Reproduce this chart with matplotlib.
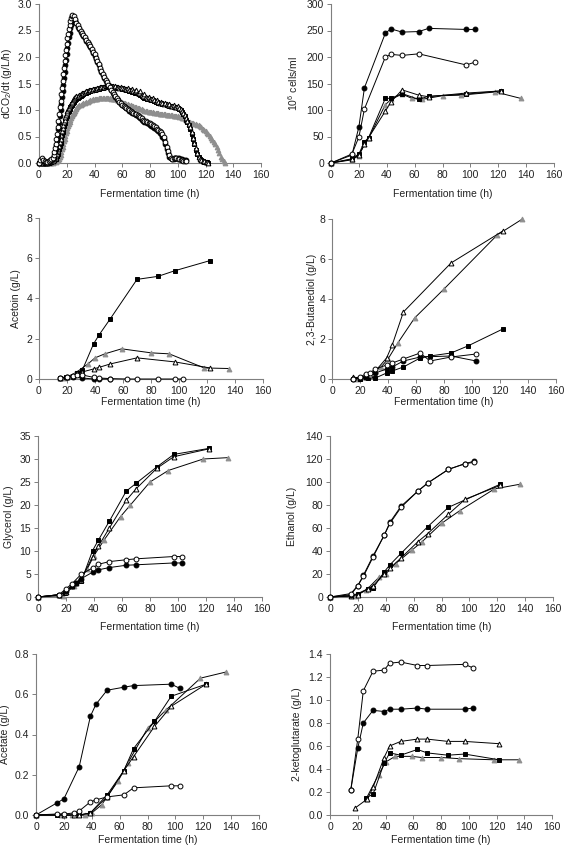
import matplotlib
matplotlib.use("Agg")
import matplotlib.pyplot as plt
import numpy as np

plt.rcParams['font.family'] = ['Liberation Sans', 'DejaVu Sans']
plt.rcParams['mathtext.fontset'] = 'custom'
plt.rcParams['mathtext.rm'] = 'Liberation Sans'
plt.rcParams['mathtext.it'] = 'Liberation Sans'

# ---------------- Data ----------------
# Panel 1: CO2 production rate (online measurement)
co2_t_fast = np.concatenate([np.arange(0, 11), np.arange(21, 49) / 2.0, np.arange(25, 107)])
co2_oc = [0.0, 0.05, 0.1, 0.06, 0.03, 0.02, 0.02, 0.03, 0.05, 0.07, 0.1,
          0.15, 0.2, 0.28, 0.35, 0.45, 0.55, 0.67, 0.8, 0.92, 1.05, 1.17, 1.3, 1.42, 1.55,
          1.67, 1.8, 1.92, 2.03, 2.14, 2.25, 2.35, 2.44, 2.52, 2.6, 2.67, 2.73, 2.78, 2.8,
          2.78, 2.72, 2.65, 2.6, 2.55, 2.5, 2.46, 2.42, 2.38, 2.33,
          2.29, 2.25, 2.2, 2.15, 2.1, 2.05, 1.98, 1.92, 1.86, 1.8,
          1.74, 1.68, 1.62, 1.57, 1.52, 1.48, 1.43, 1.38, 1.34, 1.3,
          1.26, 1.22, 1.19, 1.16, 1.13,
          1.1, 1.08, 1.06, 1.04, 1.02, 1.0, 0.98, 0.97, 0.95, 0.93,
          0.92, 0.9, 0.88, 0.86, 0.84, 0.82, 0.8, 0.79, 0.77, 0.76,
          0.75, 0.73, 0.71, 0.69, 0.67, 0.65, 0.63, 0.6, 0.58, 0.54,
          0.5, 0.4, 0.3, 0.22, 0.15, 0.1, 0.08, 0.09, 0.1, 0.09,
          0.08, 0.07, 0.05, 0.05, 0.04, 0.04, 0.03]
co2_fc = [0.0, 0.02, 0.08, 0.05, 0.02, 0.02, 0.02, 0.02, 0.03, 0.05, 0.08,
          0.1, 0.14, 0.2, 0.26, 0.34, 0.43, 0.53, 0.64, 0.76, 0.88, 1.0, 1.12, 1.24, 1.36,
          1.48, 1.6, 1.72, 1.84, 1.95, 2.06, 2.17, 2.27, 2.37, 2.46, 2.54, 2.61, 2.66, 2.7,
          2.72, 2.7, 2.64, 2.57, 2.52, 2.48, 2.44, 2.4, 2.36, 2.31,
          2.27, 2.23, 2.18, 2.13, 2.08, 2.02, 1.96, 1.9, 1.84, 1.78,
          1.72, 1.66, 1.6, 1.55, 1.5, 1.46, 1.41, 1.37, 1.33, 1.29,
          1.25, 1.21, 1.18, 1.15, 1.12,
          1.09, 1.07, 1.05, 1.03, 1.01, 0.99, 0.97, 0.95, 0.94, 0.92,
          0.9, 0.88, 0.86, 0.84, 0.82, 0.8, 0.78, 0.77, 0.75, 0.74,
          0.72, 0.7, 0.68, 0.66, 0.64, 0.62, 0.6, 0.57, 0.54, 0.5,
          0.45, 0.36, 0.26, 0.18, 0.12, 0.09, 0.07, 0.08, 0.09, 0.1,
          0.1, 0.09, 0.08, 0.07, 0.06, 0.05, 0.05]
co2_t_slow = np.concatenate([np.arange(0, 13), np.arange(25, 53) / 2.0, np.arange(27, 123)])
co2_fs = [0.0, 0.02, 0.0, 0.0, 0.0, 0.0, 0.0, 0.0, 0.02, 0.02, 0.03, 0.05, 0.08,
          0.1, 0.13, 0.17, 0.21, 0.26, 0.32, 0.38, 0.45, 0.52, 0.58,
          0.64, 0.7, 0.75, 0.8, 0.85, 0.89, 0.93, 0.96, 0.99, 1.02,
          1.05, 1.07, 1.09, 1.11, 1.13, 1.15, 1.17, 1.19,
          1.21, 1.23, 1.25, 1.27, 1.29, 1.31, 1.32, 1.33, 1.34, 1.35,
          1.36, 1.37, 1.38, 1.38, 1.39, 1.4, 1.4, 1.41, 1.42, 1.42,
          1.43, 1.43, 1.44, 1.44, 1.45, 1.44, 1.44, 1.43, 1.43, 1.42,
          1.42, 1.41, 1.41, 1.4, 1.4, 1.39, 1.38, 1.37, 1.36, 1.35,
          1.34, 1.34, 1.33, 1.33, 1.32, 1.31, 1.29, 1.27, 1.25, 1.23,
          1.22, 1.21, 1.2, 1.2, 1.19, 1.18, 1.17, 1.16, 1.15, 1.14,
          1.13, 1.13, 1.12, 1.12, 1.11, 1.1, 1.09, 1.08, 1.08, 1.07,
          1.06, 1.05, 1.05, 1.04, 1.02, 1.0, 0.97, 0.93, 0.88, 0.82,
          0.77, 0.72, 0.64, 0.55, 0.45, 0.35, 0.25, 0.17, 0.11, 0.07,
          0.05, 0.03, 0.02, 0.02, 0.01, 0.0]
co2_ot = [0.02, 0.0, 0.0, 0.0, 0.0, 0.0, 0.0, 0.01, 0.02, 0.03, 0.04, 0.06, 0.1,
          0.13, 0.17, 0.22, 0.27, 0.33, 0.39, 0.46, 0.53, 0.6, 0.66,
          0.72, 0.77, 0.82, 0.87, 0.91, 0.95, 0.98, 1.01, 1.04, 1.07,
          1.1, 1.12, 1.14, 1.16, 1.18, 1.2, 1.22, 1.24,
          1.26, 1.27, 1.29, 1.3, 1.32, 1.33, 1.34, 1.35, 1.36, 1.37,
          1.37, 1.38, 1.39, 1.4, 1.4, 1.41, 1.42, 1.43, 1.43, 1.44,
          1.44, 1.45, 1.46, 1.46, 1.47, 1.45, 1.46, 1.44, 1.45, 1.43,
          1.44, 1.42, 1.43, 1.41, 1.42, 1.4, 1.39, 1.41, 1.38, 1.37,
          1.4, 1.36, 1.35, 1.38, 1.33, 1.32, 1.35, 1.29, 1.27, 1.3,
          1.24, 1.23, 1.25, 1.21, 1.2, 1.22, 1.18, 1.17, 1.19, 1.15,
          1.14, 1.16, 1.13, 1.12, 1.14, 1.11, 1.1, 1.12, 1.08, 1.07,
          1.09, 1.06, 1.05, 1.07, 1.03, 1.01, 0.98, 0.95, 0.9, 0.85,
          0.8, 0.74, 0.67, 0.58, 0.48, 0.38, 0.28, 0.19, 0.12, 0.08,
          0.05, 0.04, 0.03, 0.02, 0.01, 0.0]
co2_t_gray = np.concatenate([np.arange(0, 15), np.arange(29, 57) / 2.0, np.arange(29, 135)])
co2_gt = [0, 0, 0, 0, 0, 0, 0, 0, 0, 0, 0, 0.01, 0.02, 0.03, 0.05,
          0.08, 0.12, 0.16, 0.21, 0.26, 0.31, 0.36, 0.41, 0.46, 0.51,
          0.56, 0.61, 0.66, 0.7, 0.74, 0.78, 0.82, 0.85, 0.88, 0.91,
          0.93, 0.95, 0.97, 0.99, 1.01, 1.03, 1.05, 1.07,
          1.09, 1.1, 1.12, 1.13, 1.14, 1.15, 1.16, 1.17, 1.18, 1.19,
          1.2, 1.2, 1.21, 1.21, 1.22, 1.22, 1.23, 1.23, 1.23, 1.23,
          1.22, 1.22, 1.22, 1.21, 1.21, 1.2, 1.2, 1.19, 1.18, 1.17,
          1.16, 1.15, 1.14, 1.13, 1.12, 1.11, 1.1, 1.09, 1.08, 1.07,
          1.06, 1.05, 1.04, 1.03, 1.02, 1.01, 1.0, 0.99, 0.99, 0.98,
          0.97, 0.97, 0.96, 0.96, 0.95, 0.95, 0.94, 0.94, 0.93, 0.93,
          0.92, 0.92, 0.92, 0.91, 0.91, 0.9, 0.9, 0.9, 0.89, 0.89,
          0.88, 0.88, 0.87, 0.86, 0.85, 0.84, 0.83, 0.82, 0.8, 0.78,
          0.77, 0.76, 0.75, 0.74, 0.73, 0.72, 0.71, 0.7, 0.68, 0.65,
          0.62, 0.6, 0.57, 0.54, 0.51, 0.48, 0.44, 0.4, 0.35, 0.3,
          0.24, 0.18, 0.12, 0.08, 0.03, 0.0]

# Panel 2: cells (10^6 cells/ml)
cell_t_fc = [0, 15, 20, 24, 39, 43, 51, 63, 70, 97, 103]
cell_fc = [0, 15, 68, 142, 245, 253, 247, 248, 254, 252, 252]
cell_t_oc = [0, 15, 20, 24, 39, 43, 51, 63, 97, 103]
cell_oc = [0, 17, 49, 102, 200, 205, 203, 206, 185, 190]
cell_t_fs = [0, 15, 20, 24, 27, 39, 43, 51, 63, 70, 97, 122]
cell_fs = [0, 8, 17, 40, 48, 122, 122, 131, 120, 126, 130, 136]
cell_t_ot = [0, 15, 20, 24, 27, 39, 43, 51, 63, 70, 97, 122]
cell_ot = [0, 7, 15, 35, 48, 98, 115, 138, 128, 125, 132, 136]
cell_t_gt = [0, 15, 20, 24, 27, 39, 43, 51, 58, 65, 80, 93, 118, 136]
cell_gt = [0, 6, 14, 35, 47, 110, 120, 130, 122, 120, 127, 128, 134, 122]

# Panel 3: acetoin (g/L)
aceto_t_fs = [15, 19, 24, 27, 31, 39, 43, 51, 70, 85, 97, 122]
aceto_fs = [0.05, 0.1, 0.15, 0.3, 0.45, 1.75, 2.2, 3.0, 4.95, 5.1, 5.38, 5.88]
aceto_t_gt = [18, 26, 35, 40, 47, 59, 80, 93, 118, 136]
aceto_gt = [0.05, 0.3, 0.75, 1.05, 1.25, 1.5, 1.3, 1.25, 0.55, 0.52]
aceto_t_ot = [15, 20, 24, 27, 31, 39, 43, 51, 70, 97, 122]
aceto_ot = [0.05, 0.1, 0.15, 0.3, 0.35, 0.5, 0.58, 0.75, 1.05, 0.85, 0.55]
aceto_t_oc = [15, 20, 24, 27, 31, 39, 43, 51, 63, 70, 85, 97, 103]
aceto_oc = [0.03, 0.1, 0.15, 0.2, 0.2, 0.08, 0.05, 0.02, 0.0, 0.0, 0.0, 0.0, 0.0]
aceto_t_fc = [15, 20, 24, 31, 39, 43, 51]
aceto_fc = [0.03, 0.1, 0.12, 0.05, 0.0, 0.0, 0.0]

# Panel 4: 2,3-butanediol (g/L)
btd_t_ot = [15, 20, 24, 27, 31, 39, 43, 51, 85, 122]
btd_ot = [0.1, 0.05, 0.1, 0.2, 0.4, 1.05, 1.7, 3.35, 5.8, 7.4]
btd_t_gt = [18, 26, 35, 40, 47, 59, 80, 118, 136]
btd_gt = [0.02, 0.2, 0.6, 1.0, 1.8, 3.05, 4.5, 7.2, 8.0]
btd_t_fs = [15, 20, 26, 31, 39, 43, 51, 63, 70, 85, 97, 122]
btd_fs = [0.0, 0.02, 0.05, 0.05, 0.3, 0.4, 0.6, 1.05, 1.15, 1.3, 1.65, 2.5]
btd_t_oc = [15, 20, 24, 27, 31, 39, 43, 51, 63, 70, 85, 103]
btd_oc = [0.02, 0.1, 0.25, 0.3, 0.5, 0.7, 0.8, 1.0, 1.3, 0.9, 1.1, 1.25]
btd_t_fc = [15, 20, 24, 31, 39, 43, 51, 63, 85, 103]
btd_fc = [0.0, 0.05, 0.1, 0.3, 0.5, 0.6, 0.9, 1.1, 1.15, 0.9]

# Panel 5: glycerol (g/L)
gly_t_fs = [0, 15, 19, 24, 27, 31, 39, 43, 51, 63, 70, 85, 97, 122]
gly_fs = [0, 0.5, 0.8, 2.5, 3.0, 3.5, 10.1, 12.3, 16.5, 23.0, 24.7, 28.3, 31.0, 32.3]
gly_t_ot = [0, 15, 20, 24, 27, 31, 39, 43, 51, 63, 70, 85, 97, 122]
gly_ot = [0, 0.5, 1.0, 2.5, 3.0, 3.8, 8.8, 11.0, 15.0, 21.0, 23.5, 28.0, 30.5, 32.2]
gly_t_gt = [0, 18, 26, 35, 40, 47, 59, 66, 80, 93, 118, 136]
gly_gt = [0, 0.3, 2.5, 6.0, 9.0, 12.3, 17.5, 20.0, 25.0, 27.5, 30.0, 30.3]
gly_t_oc = [0, 15, 20, 24, 31, 39, 43, 51, 63, 70, 97, 103]
gly_oc = [0, 0.5, 1.8, 2.8, 5.0, 6.3, 7.1, 7.7, 8.1, 8.3, 8.8, 8.8]
gly_t_fc = [0, 15, 20, 24, 27, 31, 39, 43, 51, 63, 70, 97, 103]
gly_fc = [0, 0.5, 1.3, 2.3, 3.0, 4.0, 5.4, 5.9, 6.4, 6.9, 7.0, 7.4, 7.4]

# Panel 6: ethanol (g/L)
eth_t_oc = [0, 15, 20, 24, 31, 39, 43, 51, 63, 70, 85, 97, 103]
eth_oc = [0, 3, 10, 18, 35, 54, 64, 78, 92, 99, 111, 116, 117]
eth_t_fc = [0, 15, 20, 24, 31, 39, 43, 51, 63, 70, 85, 97, 103]
eth_fc = [0, 2, 10, 19, 36, 54, 65, 79, 92, 99, 111, 116, 118]
eth_t_fs = [0, 15, 20, 27, 31, 39, 43, 51, 70, 85, 122]
eth_fs = [0, 1, 3, 7, 8, 22, 28, 38, 61, 78, 98]
eth_t_ot = [0, 15, 20, 27, 31, 39, 43, 51, 63, 70, 85, 97, 122]
eth_ot = [0, 1, 2, 7, 10, 20, 25, 34, 48, 55, 72, 85, 97]
eth_t_gt = [0, 18, 26, 35, 40, 47, 59, 66, 80, 93, 118, 136]
eth_gt = [0, 1, 6, 17, 20, 29, 41, 48, 64, 75, 94, 98]

# Panel 7: acetate (g/L)
ace_t_fc = [0, 15, 20, 31, 39, 43, 51, 63, 70, 97, 103]
ace_fc = [0, 0.06, 0.08, 0.24, 0.49, 0.55, 0.62, 0.635, 0.643, 0.65, 0.63]
ace_t_oc = [0, 15, 20, 27, 31, 39, 43, 51, 63, 70, 97, 103]
ace_oc = [0, 0.005, 0.005, 0.01, 0.02, 0.065, 0.075, 0.09, 0.1, 0.135, 0.145, 0.145]
ace_t_fs = [0, 15, 31, 39, 51, 63, 70, 85, 97, 122]
ace_fs = [0, 0.0, 0.0, 0.01, 0.1, 0.22, 0.33, 0.465, 0.59, 0.65]
ace_t_ot = [0, 20, 27, 31, 39, 51, 63, 70, 85, 97, 122]
ace_ot = [0, 0.0, 0.0, 0.0, 0.01, 0.09, 0.22, 0.29, 0.44, 0.54, 0.65]
ace_t_gt = [0, 18, 26, 35, 40, 47, 59, 66, 80, 93, 118, 136]
ace_gt = [0, 0.0, 0.0, 0.0, 0.01, 0.05, 0.17, 0.26, 0.43, 0.52, 0.68, 0.71]

# Panel 8: 2-ketoglutarate (g/L)
akg_t_oc = [15, 20, 24, 31, 39, 43, 51, 63, 70, 97, 103]
akg_oc = [0.22, 0.66, 1.08, 1.25, 1.26, 1.32, 1.33, 1.30, 1.30, 1.31, 1.28]
akg_t_fc = [15, 20, 24, 31, 39, 43, 51, 63, 70, 97, 103]
akg_fc = [0.22, 0.58, 0.80, 0.91, 0.90, 0.92, 0.92, 0.93, 0.92, 0.92, 0.93]
akg_t_ot = [18, 27, 31, 39, 43, 51, 63, 70, 85, 97, 122]
akg_ot = [0.06, 0.14, 0.24, 0.50, 0.60, 0.64, 0.66, 0.66, 0.64, 0.64, 0.62]
akg_t_fs = [26, 31, 39, 43, 51, 63, 70, 85, 97, 122]
akg_fs = [0.15, 0.18, 0.45, 0.54, 0.52, 0.57, 0.54, 0.52, 0.53, 0.48]
akg_t_gt = [26, 35, 40, 47, 59, 66, 80, 93, 118, 136]
akg_gt = [0.14, 0.35, 0.46, 0.51, 0.51, 0.50, 0.50, 0.49, 0.48, 0.48]

x_label = "Fermentation time (h)"
x_ticks = [0, 20, 40, 60, 80, 100, 120, 140, 160]

# ---------------- Styles ----------------
GRAY = '#8f8f8f'
STY = {
    'fc': dict(marker='o', mfc='black', mec='black'),
    'oc': dict(marker='o', mfc='white', mec='black'),
    'fs': dict(marker='s', mfc='black', mec='black'),
    'ot': dict(marker='^', mfc='white', mec='black'),
    'gt': dict(marker='^', mfc=GRAY, mec=GRAY),
}

W, H = 564, 850
fig = plt.figure(figsize=(W / 100, H / 100), dpi=100)


def make_ax(l, r, t, b):
    return fig.add_axes([l / W, 1 - b / H, (r - l) / W, (b - t) / H])


def style_ax(ax, ymax, ystep, ylabel, fmt, ylab_x, xlab_dy):
    ax.set_xlim(0, 160)
    ax.set_ylim(0, ymax)
    ax.set_xticks(x_ticks)
    yt = np.arange(0, ymax + ystep / 2, ystep)
    ax.set_yticks(yt)
    ax.set_yticklabels([fmt.format(v) for v in yt])
    for s in ['top', 'right']:
        ax.spines[s].set_visible(False)
    for s in ['left', 'bottom']:
        ax.spines[s].set_color('#7f7f7f')
        ax.spines[s].set_linewidth(0.8)
    ax.tick_params(axis='both', direction='out', length=3, width=0.7, color='#7f7f7f',
                   labelsize=7.5, labelcolor='#222222', pad=2)
    ax.set_xlabel(x_label, fontsize=7.5, color='#222222')
    ax.set_ylabel(ylabel, fontsize=7.5, color='#222222')
    bb = ax.get_position()
    wpx = bb.width * W
    hpx = bb.height * H
    l = bb.x0 * W
    ax.yaxis.set_label_coords((ylab_x - l) / wpx, 0.5)
    ax.xaxis.set_label_coords(0.5, -xlab_dy / hpx)
    ax.xaxis.label.set_va('center')
    ax.yaxis.label.set_va('center')


def series(ax, t, y, key, ms=3.5, lw=0.7, z=3):
    st = STY[key]
    ax.plot(t, y, linestyle='-', color='black', lw=lw,
            marker=st['marker'], mfc=st['mfc'], mec=st['mec'], ms=ms, mew=0.7,
            clip_on=False, zorder=z)


# Panel 1
ax = make_ax(39, 261, 4, 163)
series(ax, co2_t_gray, co2_gt, 'gt', ms=3.4, lw=0)
series(ax, co2_t_slow, co2_fs, 'fs', ms=3.0, lw=0)
series(ax, co2_t_slow, co2_ot, 'ot', ms=3.4, lw=0)
series(ax, co2_t_fast, co2_fc, 'fc', ms=3.4, lw=0)
series(ax, co2_t_fast, co2_oc, 'oc', ms=3.4, lw=0)
style_ax(ax, 3.0, 0.5, r"dCO$_2$/dt (g/L/h)", "{:.1f}", 7, 31)

# Panel 2
ax = make_ax(331, 554, 4, 163)
series(ax, cell_t_gt, cell_gt, 'gt')
series(ax, cell_t_fs, cell_fs, 'fs')
series(ax, cell_t_ot, cell_ot, 'ot')
series(ax, cell_t_fc, cell_fc, 'fc')
series(ax, cell_t_oc, cell_oc, 'oc')
style_ax(ax, 300, 50, r"10$^6$ cells/ml", "{:.0f}", 293, 31)

# Panel 3
ax = make_ax(39, 263, 218, 379)
series(ax, aceto_t_gt, aceto_gt, 'gt')
series(ax, aceto_t_fs, aceto_fs, 'fs')
series(ax, aceto_t_ot, aceto_ot, 'ot')
series(ax, aceto_t_fc, aceto_fc, 'fc')
series(ax, aceto_t_oc, aceto_oc, 'oc')
style_ax(ax, 8, 2, "Acetoin (g/L)", "{:.0f}", 16, 23)

# Panel 4
ax = make_ax(332, 556, 219, 379)
series(ax, btd_t_gt, btd_gt, 'gt')
series(ax, btd_t_fs, btd_fs, 'fs')
series(ax, btd_t_ot, btd_ot, 'ot')
series(ax, btd_t_fc, btd_fc, 'fc')
series(ax, btd_t_oc, btd_oc, 'oc')
style_ax(ax, 8, 2, "2,3-Butanediol (g/L)", "{:.0f}", 312, 23)

# Panel 5
ax = make_ax(38, 262, 436, 597)
series(ax, gly_t_gt, gly_gt, 'gt')
series(ax, gly_t_fs, gly_fs, 'fs')
series(ax, gly_t_ot, gly_ot, 'ot')
series(ax, gly_t_fc, gly_fc, 'fc')
series(ax, gly_t_oc, gly_oc, 'oc')
style_ax(ax, 35, 5, "Glycerol (g/L)", "{:.0f}", 9, 30)

# Panel 6
ax = make_ax(330, 553, 436, 597)
series(ax, eth_t_gt, eth_gt, 'gt')
series(ax, eth_t_fs, eth_fs, 'fs')
series(ax, eth_t_ot, eth_ot, 'ot')
series(ax, eth_t_fc, eth_fc, 'fc')
series(ax, eth_t_oc, eth_oc, 'oc')
style_ax(ax, 140, 20, "Ethanol (g/L)", "{:.0f}", 292, 30)

# Panel 7
ax = make_ax(36, 259, 654, 815)
series(ax, ace_t_gt, ace_gt, 'gt')
series(ax, ace_t_fs, ace_fs, 'fs')
series(ax, ace_t_ot, ace_ot, 'ot')
series(ax, ace_t_fc, ace_fc, 'fc')
series(ax, ace_t_oc, ace_oc, 'oc')
style_ax(ax, 0.8, 0.2, "Acetate (g/L)", "{:.1f}", 5, 25)

# Panel 8
ax = make_ax(330, 552, 654, 815)
series(ax, akg_t_gt, akg_gt, 'gt')
series(ax, akg_t_fs, akg_fs, 'fs')
series(ax, akg_t_ot, akg_ot, 'ot')
series(ax, akg_t_fc, akg_fc, 'fc')
series(ax, akg_t_oc, akg_oc, 'oc')
style_ax(ax, 1.4, 0.2, "2-ketoglutarate (g/L)", "{:.1f}", 297, 25)

fig.savefig("out.png", dpi=100)
